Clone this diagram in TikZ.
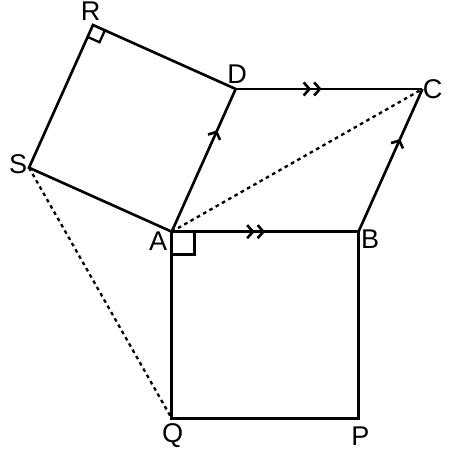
\documentclass[tikz,border=0pt]{standalone}
\usepackage{fontspec}
\setmainfont{Liberation Sans}
\usetikzlibrary{arrows.meta,decorations.markings,calc}

\tikzset{
  lbl/.style={inner sep=0pt, font=\fontsize{16.5}{18}\selectfont},
  onetick/.style={postaction={decorate}, decoration={markings,
      mark=at position #1 with {\arrow{Straight Barb[length=3.5pt,width=8pt]}}}},
  twotick/.style={postaction={decorate}, decoration={markings,
      mark=at position #1 with {\arrow{Straight Barb[length=3.5pt,width=8pt,sep=1pt]Straight Barb[length=3.5pt,width=8pt]}}}},
  dotline/.style={dash pattern=on 2.2pt off 2.2pt}
}

\begin{document}
\begin{tikzpicture}[line width=1.6pt]
    \useasboundingbox (-3.677,-4.675) rectangle (5.917,4.961);

    % Points of the two squares and the parallelogram
    \coordinate (A) at (0,0);
    \coordinate (B) at (4,0);
    \coordinate (P) at (4,-4);
    \coordinate (Q) at (0,-4);
    \coordinate (D) at (1.37,3.056);
    \coordinate (C) at (5.37,3.056);
    \coordinate (S) at (-3.056,1.37);
    \coordinate (R) at (-1.686,4.426);

    % Square ABPQ
    \draw[twotick=0.5] (A) -- (B);
    \draw (B) -- (P) -- (Q) -- (A);

    % Square ADRS
    \draw[onetick=0.71] (A) -- (D);
    \draw (D) -- (R) -- (S) -- (A);

    % Parallelogram sides DC and BC
    \draw[twotick=0.46] (D) -- (C);
    \draw[onetick=0.65] (B) -- (C);

    % Dotted lines SQ and AC
    \draw[dotline, line width=1.4pt] (S) -- (Q);
    \draw[dotline, line width=1.4pt] (A) -- (C);

    % Right angles at A and R
    \draw[line width=1.4pt] (0,-0.49) -- (0.49,-0.49) -- (0.49,0);
    \draw[line width=1.4pt] ($(R)!0.28cm!(S)$) -- ++(0.255,-0.114) -- ($(R)!0.28cm!(D)$);

    % Labels
    \node[lbl, shift={(-0.29,-0.21)}] (labA) at (A) {A};
    \node[lbl, shift={(0.25,-0.15)}] (labB) at (B) {B};
    \node[lbl, shift={(0.22,0)}] (labC) at (C) {C};
    \node[lbl, shift={(0.03,0.31)}] (labD) at (D) {D};
    \node[lbl, shift={(-0.05,0.29)}] (labR) at (R) {R};
    \node[lbl, shift={(-0.23,0.07)}] (labS) at (S) {S};
    \node[lbl, shift={(0.02,-0.36)}] (labQ) at (Q) {Q};
    \node[lbl, shift={(0.04,-0.37)}] (labP) at (P) {P};
\end{tikzpicture}
\end{document}
